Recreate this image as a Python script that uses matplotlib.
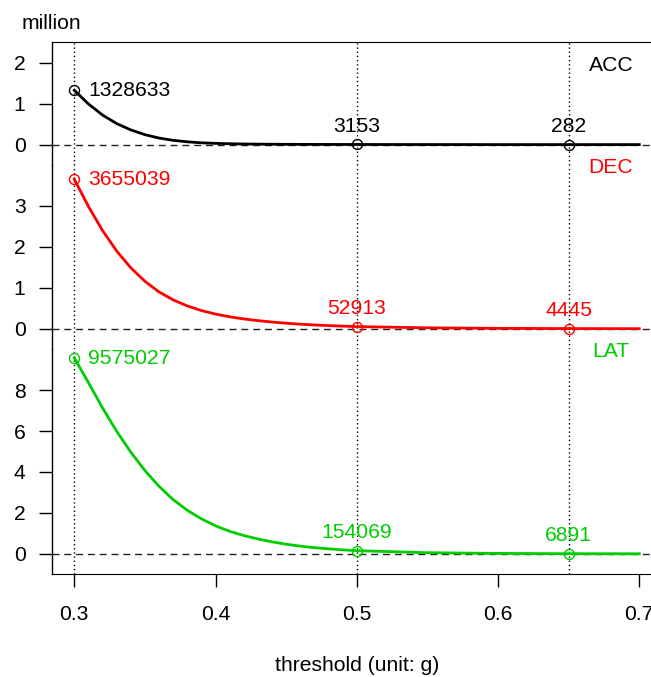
import matplotlib.pyplot as plt

plt.rcParams['font.family'] = ['Liberation Sans', 'DejaVu Sans']
plt.rcParams['font.size'] = 15.2

# counts (millions) over the threshold grid
threshold = [0.30, 0.31, 0.32, 0.33, 0.34, 0.35, 0.36, 0.37, 0.38, 0.39,
             0.40, 0.41, 0.42, 0.43, 0.44, 0.45, 0.46, 0.47, 0.48, 0.49,
             0.50, 0.55, 0.60, 0.65, 0.70]
acc = [1.328633, 0.994, 0.722, 0.514, 0.359, 0.243, 0.160, 0.104, 0.068, 0.044,
       0.030, 0.021, 0.015, 0.0114, 0.0089, 0.0071, 0.0058, 0.0049, 0.0041, 0.0035,
       0.003153, 0.0014, 0.00063, 0.000282, 0.00013]
dec = [3.655039, 2.99, 2.40, 1.90, 1.49, 1.16, 0.90, 0.705, 0.558, 0.445,
       0.359, 0.292, 0.240, 0.199, 0.164, 0.136, 0.112, 0.093, 0.077, 0.064,
       0.052913, 0.023, 0.010, 0.004445, 0.002]
lat = [9.575027, 8.37, 7.13, 5.99, 4.97, 4.07, 3.30, 2.65, 2.13, 1.71,
       1.37, 1.10, 0.895, 0.725, 0.585, 0.47, 0.377, 0.302, 0.243, 0.195,
       0.154069, 0.055, 0.020, 0.006891, 0.0025]

marked = [0.3, 0.5, 0.65]
acc_counts = [1328633, 3153, 282]
dec_counts = [3655039, 52913, 4445]
lat_counts = [9575027, 154069, 6891]

green = '#00CD00'
panels = [
    # name, curve, counts, colour, ylim, yticks, name y
    ('ACC', acc, acc_counts, 'black', (-0.5, 2.5), [0, 1, 2], 2),
    ('DEC', dec, dec_counts, 'red', (-0.5, 4.0), [0, 1, 2, 3], 4),
    ('LAT', lat, lat_counts, green, (-1, 10), [0, 2, 4, 6, 8], 10),
]

fig = plt.figure(figsize=(6.51, 6.77), dpi=100)
left, width = 0.0794, 0.9373
unit = 532 / 677 / 13
bottoms = [0.1517 + 10 * unit, 0.1517 + 5.5 * unit, 0.1517]
heights = [3 * unit, 4.5 * unit, 5.5 * unit]

for i, (name, curve, counts, col, ylim, yticks, ny) in enumerate(panels):
    ax = fig.add_axes([left, bottoms[i], width, heights[i]])
    ax.set_xlim(0.284, 0.716)
    ax.set_ylim(*ylim)
    ax.set_yticks(yticks)
    for s in ('top', 'bottom', 'right'):
        ax.spines[s].set_visible(False)
    ax.spines['left'].set_linewidth(1.0)
    if i == 0:
        ax.spines['top'].set_visible(True)
    if i == 2:
        ax.spines['bottom'].set_visible(True)
        ax.set_xticks([0.3, 0.4, 0.5, 0.6, 0.7])
        ax.tick_params(axis='x', length=9.3, width=1.0, pad=13)
    else:
        ax.set_xticks([])
    ax.tick_params(axis='y', length=9.3, width=1.0, pad=9.5)
    ax.patch.set_visible(False)

    ax.axhline(0, color='#222222', lw=1.0, ls=(0, (5, 3.5)), zorder=1)
    for x in marked:
        ax.axvline(x, color='black', lw=1.0, ls=(0, (1, 2)), zorder=1)

    ax.plot(threshold, curve, color=col, lw=2.0, zorder=3)
    vals = [c / 1e6 for c in counts]
    ax.plot(marked, vals, 'o', mfc='none', mec=col, ms=7.2, mew=1.0, zorder=4)

    ax.annotate(str(counts[0]), (marked[0], vals[0]), xytext=(10, -4.2),
                textcoords='offset points', ha='left', va='baseline',
                color=col, annotation_clip=False)
    for x, v, c in zip(marked[1:], vals[1:], counts[1:]):
        ax.annotate(str(c), (x, v), xytext=(0, 9.2),
                    textcoords='offset points', ha='center', va='baseline',
                    color=col, annotation_clip=False)
    ax.annotate(name, (0.68, ny), xytext=(0, -5.8),
                textcoords='offset points', ha='center', va='baseline',
                color=col, annotation_clip=False)

fig.text(51.5 / 651, 1 - 29.3 / 677, 'million', ha='center', va='baseline')
fig.text(356.8 / 651, 1 - 671 / 677, 'threshold (unit: g)',
         ha='center', va='baseline')

fig.savefig('out.png', dpi=100)
